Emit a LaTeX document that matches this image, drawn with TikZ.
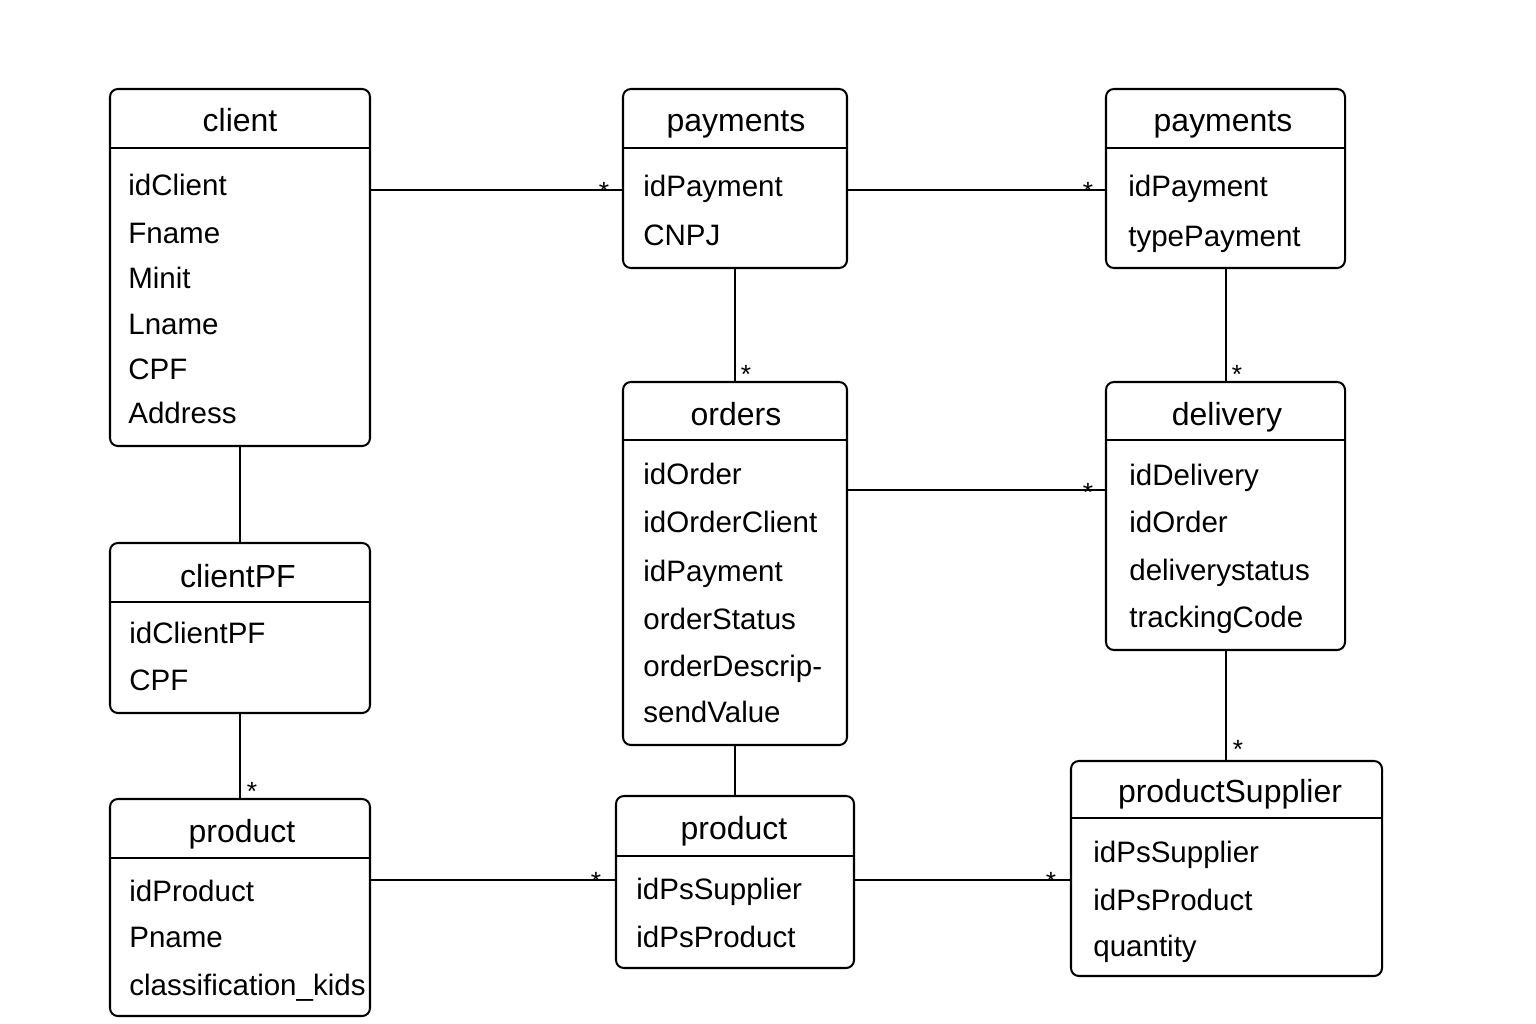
\documentclass[tikz,border=0pt]{standalone}
\usepackage{fontspec}
\setmainfont{Liberation Sans}
\usetikzlibrary{fit}
\begin{document}
\begin{tikzpicture}[x=0.02cm,y=-0.02cm,
  box/.style={draw, line width=1.15pt, rounded corners=4.5pt, inner sep=0pt},
  ttl/.style={font=\fontsize{18.2}{20}\selectfont, anchor=base, inner sep=0pt},
  attr/.style={font=\fontsize{16.8}{19}\selectfont, anchor=base west, inner sep=0pt},
  starlbl/.style={font=\fontsize{15}{16}\selectfont, anchor=base, inner sep=0pt},
  conn/.style={line width=1.15pt}]
\fill[white] (0,0) rectangle (1536,1024);
\useasboundingbox (0,0) rectangle (1536,1024);

% boxes
\node[box, fit={(110,89) (370,446)}] (client) {};
\node[box, fit={(623,89) (847,268)}] (payA) {};
\node[box, fit={(1106,89) (1345,268)}] (payB) {};
\node[box, fit={(623,382) (847,745)}] (orders) {};
\node[box, fit={(1106,382) (1345,650)}] (delivery) {};
\node[box, fit={(110,543) (370,713)}] (clientPF) {};
\node[box, fit={(110,799) (370,1016)}] (prodA) {};
\node[box, fit={(616,796) (854,968)}] (prodB) {};
\node[box, fit={(1071,761) (1382,976)}] (supplier) {};

% header lines
\draw[conn] (client.west |- 0,148) -- (client.east |- 0,148);
\draw[conn] (payA.west |- 0,148) -- (payA.east |- 0,148);
\draw[conn] (payB.west |- 0,148) -- (payB.east |- 0,148);
\draw[conn] (orders.west |- 0,440) -- (orders.east |- 0,440);
\draw[conn] (delivery.west |- 0,440) -- (delivery.east |- 0,440);
\draw[conn] (clientPF.west |- 0,602) -- (clientPF.east |- 0,602);
\draw[conn] (prodA.west |- 0,858) -- (prodA.east |- 0,858);
\draw[conn] (prodB.west |- 0,856) -- (prodB.east |- 0,856);
\draw[conn] (supplier.west |- 0,818) -- (supplier.east |- 0,818);

% titles
\node[ttl] (tClient) at (240,132) {client};
\node[ttl] (tPayA) at (736,132) {payments};
\node[ttl] (tPayB) at (1223,132) {payments};
\node[ttl] (tOrders) at (736,425) {orders};
\node[ttl] (tDelivery) at (1227,425) {delivery};
\node[ttl] (tClientPF) at (238,587) {clientPF};
\node[ttl] (tProdA) at (242,842) {product};
\node[ttl] (tProdB) at (734,839) {product};
\node[ttl] (tSupplier) at (1230,802) {productSupplier};

% attributes
\node[attr] (c1) at (128,195) {idClient};
\node[attr] (c2) at (128,243) {Fname};
\node[attr] (c3) at (128,288) {Minit};
\node[attr] (c4) at (128,334) {Lname};
\node[attr] (c5) at (128,379) {CPF};
\node[attr] (c6) at (128,423) {Address};

\node[attr] (pa1) at (643,196) {idPayment};
\node[attr] (pa2) at (643,245) {CNPJ};

\node[attr] (pb1) at (1128,196) {idPayment};
\node[attr] (pb2) at (1128,246) {typePayment};

\node[attr] (o1) at (643,484) {idOrder};
\node[attr] (o2) at (643,532) {idOrderClient};
\node[attr] (o3) at (643,581) {idPayment};
\node[attr] (o4) at (643,629) {orderStatus};
\node[attr] (o5) at (643,676) {orderDescrip-};
\node[attr] (o6) at (643,722) {sendValue};

\node[attr] (d1) at (1129,485) {idDelivery};
\node[attr] (d2) at (1129,532) {idOrder};
\node[attr] (d3) at (1129,580) {deliverystatus};
\node[attr] (d4) at (1129,627) {trackingCode};

\node[attr] (cp1) at (129,643) {idClientPF};
\node[attr] (cp2) at (129,690) {CPF};

\node[attr] (pr1) at (129,901) {idProduct};
\node[attr] (pr2) at (129,947) {Pname};
\node[attr] (pr3) at (129,995) {classification\_kids};

\node[attr] (pq1) at (636,899) {idPsSupplier};
\node[attr] (pq2) at (636,947) {idPsProduct};

\node[attr] (s1) at (1093,862) {idPsSupplier};
\node[attr] (s2) at (1093,910) {idPsProduct};
\node[attr] (s3) at (1093,956) {quantity};

% connectors
\draw[conn] (client.east |- 0,190) -- (payA.west |- 0,190);
\draw[conn] (payA.east |- 0,190) -- (payB.west |- 0,190);
\draw[conn] (payA.south -| 735,0) -- (orders.north -| 735,0);
\draw[conn] (payB.south -| 1226,0) -- (delivery.north -| 1226,0);
\draw[conn] (orders.east |- 0,490) -- (delivery.west |- 0,490);
\draw[conn] (client.south -| 240,0) -- (clientPF.north -| 240,0);
\draw[conn] (clientPF.south -| 240,0) -- (prodA.north -| 240,0);
\draw[conn] (orders.south -| 735,0) -- (prodB.north -| 735,0);
\draw[conn] (prodA.east |- 0,880) -- (prodB.west |- 0,880);
\draw[conn] (prodB.east |- 0,880) -- (supplier.west |- 0,880);
\draw[conn] (delivery.south -| 1226,0) -- (supplier.north -| 1226,0);

% multiplicities
\node[starlbl] (m1) at (604,200) {*};
\node[starlbl] (m2) at (1088,200) {*};
\node[starlbl] (m3) at (746,383) {*};
\node[starlbl] (m4) at (1237,383) {*};
\node[starlbl] (m5) at (1088,501) {*};
\node[starlbl] (m6) at (252,800) {*};
\node[starlbl] (m7) at (596,890) {*};
\node[starlbl] (m8) at (1051,890) {*};
\node[starlbl] (m9) at (1238,758) {*};
\end{tikzpicture}
\end{document}
